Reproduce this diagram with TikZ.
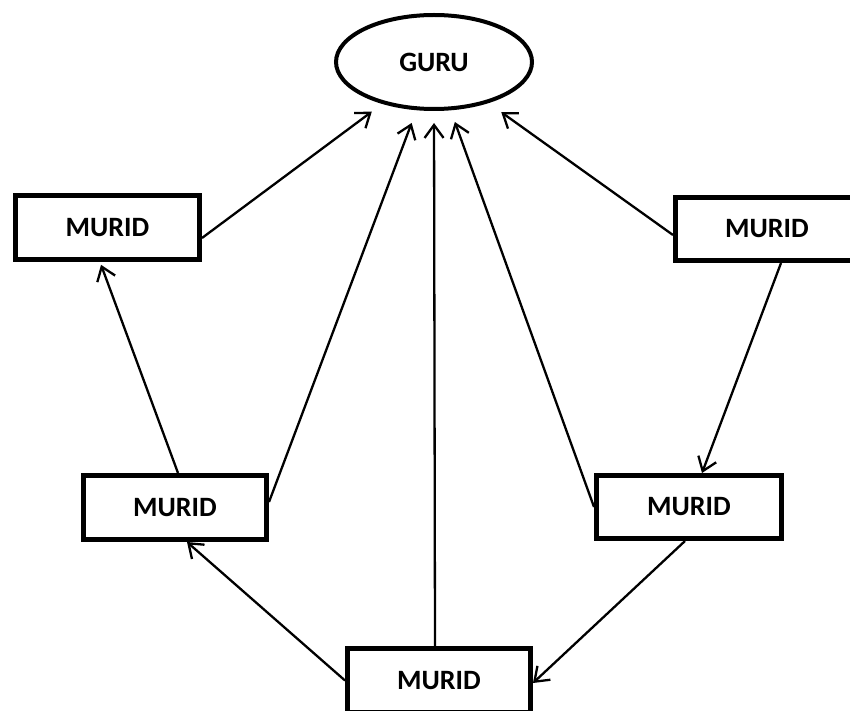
\documentclass[tikz,border=0pt]{standalone}
\usepackage{fontspec}
\setmainfont{Carlito}
\usetikzlibrary{shapes.geometric,arrows.meta}
\begin{document}
\begin{tikzpicture}[x=1pt,y=-1pt,
  box/.style={draw,line width=5pt,rectangle,inner sep=0pt,font=\fontsize{28}{30}\selectfont\bfseries},
  guruoval/.style={draw,line width=4pt,ellipse,inner sep=0pt,minimum width=196pt,minimum height=94pt,font=\fontsize{28}{30}\selectfont\bfseries},
  conn/.style={line width=2.3pt,-{Straight Barb[length=13pt,width=19pt,line width=2.3pt]}}
]
\useasboundingbox (0,0) rectangle (850,711);
\clip (0,0) rectangle (850,711);
\fill[white] (0,0) rectangle (850,711);
\node[guruoval] (guru) at (434,62) {GURU};
\node[box,minimum width=184pt,minimum height=64pt] (tl) at (107.5,227.5) {MURID};
\node[box,minimum width=183pt,minimum height=63pt] (tr) at (767,229) {MURID};
\node[box,minimum width=183pt,minimum height=64pt] (ml) at (175,507.5) {MURID};
\node[box,minimum width=185pt,minimum height=63pt] (mr) at (689,507) {MURID};
\node[box,minimum width=183pt,minimum height=64pt] (bt) at (439,680.5) {MURID};
\draw[conn,shorten >=13pt] ([yshift=-10.5pt]tl.east) -- (guru.219.4);
\draw[conn,shorten >=3pt] ([xshift=3pt]ml.north) -- ([xshift=-7.5pt]tl.south);
\draw[conn,shorten >=13.6pt] ([yshift=5.5pt]ml.east) -- (guru.250.4);
\draw[conn,shorten >=12pt] ([xshift=-4pt]bt.north) -- (guru.south);
\draw[conn,shorten >=12.4pt] (mr.west) -- (guru.289.2);
\draw[conn,shorten >=15.7pt] ([yshift=-6pt]tr.west) -- (guru.323.6);
\draw[conn] ([xshift=14pt]tr.south) -- ([xshift=13pt]mr.north);
\draw[conn] ([xshift=-4pt]mr.south) -- ([yshift=-2.5pt]bt.east);
\draw[conn] (bt.west) -- ([xshift=12pt]ml.south);
\end{tikzpicture}
\end{document}
